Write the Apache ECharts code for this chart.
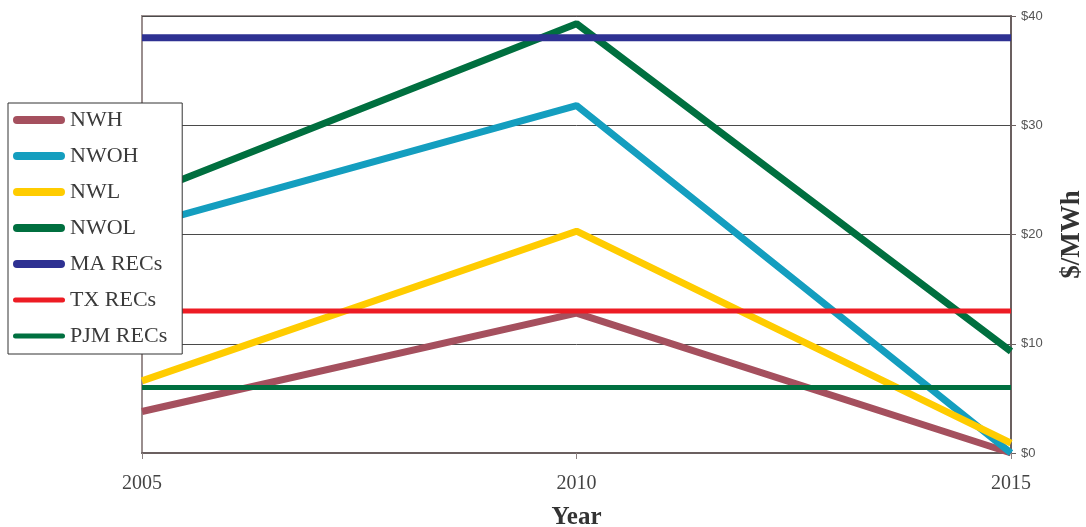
<!DOCTYPE html>
<html><head><meta charset="utf-8">
<script src="https://cdn.jsdelivr.net/npm/echarts@6/dist/echarts.min.js"></script>
<style>html,body{margin:0;padding:0;background:#fff}#c{width:1086px;height:527px}</style>
</head><body><div id="c"></div>
<script>
var years = ['2005','2010','2015'];
var seriesNames = ['NWH','NWOH','NWL','NWOL','MA RECs','TX RECs','PJM RECs'];
var NWH = [3.8, 12.8, 0];
var NWOH = [20.8, 31.8, 0];
var NWL = [6.6, 20.3, 0.9];
var NWOL = [23.6, 39.3, 9.3];
var MA_RECs = [38, 38, 38];
var TX_RECs = [13, 13, 13];
var PJM_RECs = [6, 6, 6];
var yTicks = [0, 10, 20, 30, 40];

var values = [NWH, NWOH, NWL, NWOL, MA_RECs, TX_RECs, PJM_RECs];
var colors = ['#A5505E','#149EBF','#FFCC00','#006F3F','#2E3192','#ED1C24','#007040'];
var widths = [7, 7, 7, 7, 7, 5, 5];
var serif = '"Liberation Serif","DejaVu Serif",serif';
var capsule = 'path://M4,0H48A4,4 0 0 1 48,8H4A4,4 0 0 1 4,0Z';
var thinCapsule = 'path://M2.5,0H49.5A2.5,2.5 0 0 1 49.5,5H2.5A2.5,2.5 0 0 1 2.5,0Z';

var chart = echarts.init(document.getElementById('c'));
chart.setOption({
  animation: false,
  backgroundColor: '#fff',
  grid: {left: 142, right: 75, top: 16, bottom: 74, show: true, borderColor: '#9a8e8e', borderWidth: 2,
    containLabel: false, outerBoundsMode: 'none'},
  legend: {
    orient: 'vertical', left: 8, top: 103,
    backgroundColor: '#fff', borderColor: '#333', borderWidth: 1,
    padding: [6, 15, 7, 5],
    itemWidth: 52, itemHeight: 8, itemGap: 14,
    textStyle: {fontFamily: serif, fontSize: 22, color: '#3a3a3a', lineHeight: 22},
    data: seriesNames.map(function(n, i){
      return {name: n, icon: widths[i] === 5 ? thinCapsule : capsule};
    })
  },
  xAxis: {
    type: 'category', data: years, boundaryGap: false,
    axisLine: {lineStyle: {color: '#6b6060', width: 2}},
    axisTick: {show: true, length: 6, lineStyle: {color: '#8a8080'}},
    axisLabel: {fontFamily: serif, fontSize: 20, color: '#444', margin: 21},
    name: 'Year', nameLocation: 'middle', nameGap: 52,
    nameTextStyle: {fontFamily: serif, fontSize: 25, fontWeight: 'bold', color: '#333'}
  },
  yAxis: {
    type: 'value', position: 'right', min: 0, max: 40, interval: 10,
    axisLine: {show: true, lineStyle: {color: '#6b6060', width: 2}},
    axisTick: {show: true, length: 5, lineStyle: {color: '#6b6060'}},
    splitLine: {lineStyle: {color: '#4a4a4a', width: 1}},
    axisLabel: {fontFamily: '"Liberation Sans",Arial,sans-serif', fontSize: 13, color: '#555', margin: 10,
      formatter: function(v){ return '$' + v; }},
    name: '$/MWh', nameLocation: 'middle', nameRotate: 90, nameGap: 48,
    nameTextStyle: {fontFamily: serif, fontSize: 27, fontWeight: 'bold', color: '#333'}
  },
  series: seriesNames.map(function(n, i){
    return {
      name: n, type: 'line', data: values[i], symbol: 'none',
      lineStyle: {color: colors[i], width: widths[i]},
      itemStyle: {color: colors[i]}
    };
  })
});
</script></body></html>
